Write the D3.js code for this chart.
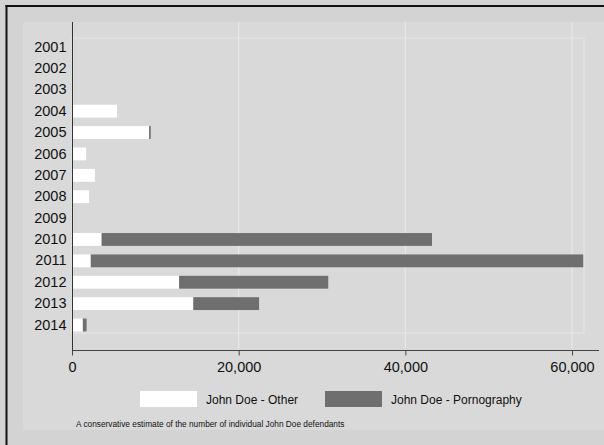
<!DOCTYPE html>
<html>
<head>
<meta charset="utf-8">
<script src="https://cdn.jsdelivr.net/npm/d3@7"></script>
<style>
  body { margin: 0; background: #d4d4d4; }
  svg { display: block; font-family: "Liberation Sans", Arial, sans-serif; }
</style>
</head>
<body>
<div id="chart"></div>
<script>
const width = 604;
const height = 445;

// data
const years = ["2001", "2002", "2003", "2004", "2005", "2006", "2007",
               "2008", "2009", "2010", "2011", "2012", "2013", "2014"];
const other = [20, 20, 120, 5400, 9250, 1700, 2750, 2050, 120, 3550, 2250, 12850, 14550, 1300];
const porn  = [0, 0, 0, 0, 200, 0, 0, 0, 0, 39650, 59100, 17900, 7900, 450];
const xTicks = [0, 20000, 40000, 60000];
const seriesNames = ["John Doe - Other", "John Doe - Pornography"];
const colors = ["#ffffff", "#6f6f6f"];
const note = "A conservative estimate of the number of individual John Doe defendants";

const svg = d3.select("#chart").append("svg")
    .attr("width", width)
    .attr("height", height);

// background + frame
svg.append("rect")
    .attr("width", width).attr("height", height)
    .attr("fill", "#d3d3d3");
svg.append("rect")
    .attr("x", 23).attr("y", 22)
    .attr("width", width - 23).attr("height", 408)
    .attr("fill", "#d9d9d9");
svg.append("line")
    .attr("x1", 6.5).attr("x2", 6.5).attr("y1", 5).attr("y2", height)
    .attr("stroke", "#111").attr("stroke-width", 2);
svg.append("line")
    .attr("x1", 5.5).attr("x2", width).attr("y1", 6).attr("y2", 6)
    .attr("stroke", "#111").attr("stroke-width", 2);

// scales
const x = d3.scaleLinear().domain([0, 60000]).range([72, 572]);
const y = d3.scaleBand()
    .domain(years)
    .range([36.3, 335.7])
    .paddingInner(0.4)
    .paddingOuter(0.2);

// plot box + grid
svg.append("rect")
    .attr("x", 72).attr("y", 38)
    .attr("width", 584 - 72).attr("height", 333 - 38)
    .attr("fill", "none")
    .attr("stroke", "#e6e6e6").attr("stroke-width", 1);

svg.selectAll(".grid")
    .data(xTicks.slice(1))
    .enter()
    .append("line")
    .attr("class", "grid")
    .attr("x1", (d) => x(d)).attr("x2", (d) => x(d))
    .attr("y1", 22).attr("y2", 349)
    .attr("stroke", "#e8e8e8").attr("stroke-width", 1.2);

// bars
const rows = years.map((yr, i) => ({ year: yr, other: other[i], porn: porn[i] }));

svg.selectAll(".bar-other")
    .data(rows)
    .enter()
    .append("rect")
    .attr("class", "bar-other")
    .attr("x", x(0))
    .attr("y", (d) => y(d.year))
    .attr("width", (d) => x(d.other) - x(0))
    .attr("height", y.bandwidth())
    .attr("fill", colors[0]);

svg.selectAll(".bar-porn")
    .data(rows)
    .enter()
    .append("rect")
    .attr("class", "bar-porn")
    .attr("x", (d) => x(d.other))
    .attr("y", (d) => y(d.year))
    .attr("width", (d) => x(d.other + d.porn) - x(d.other))
    .attr("height", y.bandwidth())
    .attr("fill", colors[1]);

// y axis
const yAxis = svg.append("g")
    .attr("transform", "translate(72.5,0)")
    .call(d3.axisLeft(y).tickSize(0).tickPadding(6));
yAxis.select(".domain").remove();
yAxis.selectAll("text")
    .style("font-size", "14.5px")
    .attr("fill", "#111");
svg.append("line")
    .attr("x1", 72.5).attr("x2", 72.5).attr("y1", 22).attr("y2", 350)
    .attr("stroke", "#333").attr("stroke-width", 1);

// x axis
const xAxis = svg.append("g")
    .attr("transform", "translate(0,350.5)")
    .call(d3.axisBottom(x).tickValues(xTicks).tickSize(5).tickSizeOuter(0)
        .tickFormat(d3.format(",")));
xAxis.select(".domain")
    .attr("d", `M${x(0)},0H599`)
    .attr("stroke", "#444");
xAxis.selectAll(".tick line").attr("stroke", "#444");
xAxis.selectAll("text")
    .style("font-size", "14.5px")
    .attr("fill", "#111")
    .attr("dy", "0.9em");

// legend
const legend = svg.append("g");
const legX = [140, 325];
seriesNames.forEach((name, i) => {
    legend.append("rect")
        .attr("x", legX[i]).attr("y", 391)
        .attr("width", 57).attr("height", 16)
        .attr("fill", colors[i]);
    legend.append("text")
        .attr("x", legX[i] + 66).attr("y", 403.5)
        .style("font-size", "12px")
        .attr("fill", "#111")
        .text(name);
});

svg.append("text")
    .attr("x", 76).attr("y", 427)
    .style("font-size", "8.3px")
    .attr("fill", "#111")
    .text(note);
</script>
</body>
</html>
